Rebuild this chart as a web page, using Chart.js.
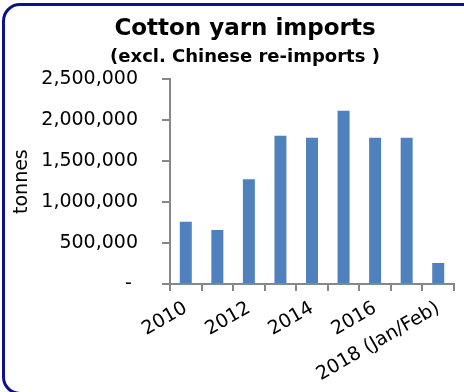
<!DOCTYPE html>
<html>
<head>
<meta charset="utf-8">
<script src="https://cdn.jsdelivr.net/npm/chart.js@4/dist/chart.umd.min.js"></script>
<style>
  html, body { margin: 0; padding: 0; background: #fff; }
  #wrap { position: relative; width: 464px; height: 392px; overflow: hidden; }
  #frame {
    position: absolute; left: 2px; top: 3px; width: 500px; height: 392px;
    border: 3px solid #10108c; border-radius: 18px; box-sizing: border-box;
  }
  #imports { position: absolute; left: 0; top: 0; }
</style>
</head>
<body>
<div id="wrap">
  <div id="frame"></div>
  <canvas id="imports" width="464" height="392"></canvas>
</div>
<script>
(function () {
    'use strict';

    // yearly cotton yarn imports, tonnes
    var years = ['2010', '2011', '2012', '2013', '2014', '2015', '2016', '2017', '2018 (Jan/Feb)'];
    var tonnes = [760000, 660000, 1280000, 1810000, 1785000, 2115000, 1785000, 1785000, 255000];
    var yTicks = [0, 500000, 1000000, 1500000, 2000000, 2500000];

    var font = 'DejaVu Sans',
        axisGrey = '#878787';

    Chart.defaults.font.family = font;
    Chart.defaults.color = '#000';

    var ctx = document.getElementById('imports').getContext('2d');

    new Chart(ctx, {
        type: 'bar',
        data: {
            labels: years,
            datasets: [{
                data: tonnes,
                backgroundColor: '#4f81bd',
                borderWidth: 0,
                barPercentage: 0.38,
                categoryPercentage: 1
            }]
        },
        options: {
            responsive: false,
            animation: false,
            // wide left padding pulls the heading's centre to the right
            layout: { padding: { left: 36, right: 10, top: 0, bottom: 0 } },
            plugins: {
                legend: { display: false },
                tooltip: { enabled: false },
                title: {
                    display: true,
                    text: 'Cotton yarn imports',
                    font: { size: 23, weight: 'bold' },
                    padding: { top: 15, bottom: 0 }
                },
                subtitle: {
                    display: true,
                    text: '(excl. Chinese re-imports )',
                    font: { size: 18, weight: 'bold' },
                    padding: { top: 4, bottom: 11 }
                }
            },
            scales: {
                x: {
                    offset: true,
                    grid: {
                        display: true,
                        offset: true,
                        drawOnChartArea: false,
                        color: axisGrey,
                        lineWidth: 2,
                        tickLength: 7
                    },
                    border: { color: axisGrey, width: 2 },
                    ticks: {
                        autoSkip: false,
                        minRotation: 30,
                        maxRotation: 30,
                        padding: 6,
                        font: { size: 19 },
                        callback: function (value, index) {
                            return index % 2 === 0 ? this.getLabelForValue(value) : '';
                        }
                    },
                    afterFit: function (scale) {
                        scale.height = 108;
                    }
                },
                y: {
                    min: 0,
                    max: 2500000,
                    afterBuildTicks: function (scale) {
                        scale.ticks = yTicks.map(function (v) { return { value: v }; });
                    },
                    grid: {
                        drawOnChartArea: false,
                        color: axisGrey,
                        lineWidth: 2,
                        tickLength: 8
                    },
                    border: { color: axisGrey, width: 2 },
                    title: {
                        display: true,
                        text: 'tonnes',
                        font: { size: 19 },
                        padding: { top: -25, bottom: 0 }
                    },
                    ticks: {
                        padding: 24,
                        font: { size: 19 },
                        callback: function (value) {
                            return value === 0 ? '- ' : value.toLocaleString('en-US');
                        }
                    },
                    afterFit: function (scale) {
                        scale.width = 134;
                    }
                }
            }
        }
    });
})();
</script>
</body>
</html>
